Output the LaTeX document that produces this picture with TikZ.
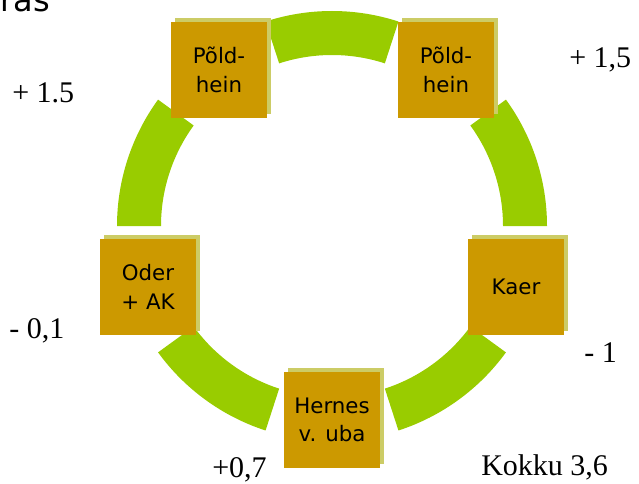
\documentclass[tikz,border=0pt]{standalone}
\usepackage{fontspec}
\setmainfont{Liberation Serif}
\newfontfamily\boxfont{DejaVu Sans}
\usetikzlibrary{shadows}
\definecolor{cropgold}{HTML}{CC9900}
\definecolor{shadeolive}{HTML}{CCCC66}
\definecolor{bandgreen}{HTML}{99CC00}
\begin{document}
\begin{tikzpicture}[
    x=0.75pt, y=0.75pt,
    crop/.style={fill=cropgold, minimum size=72pt, inner sep=0pt, align=center,
        font=\boxfont\fontsize{16}{21.5}\selectfont,
        drop shadow={shadow xshift=3pt, shadow yshift=3pt, fill=shadeolive, opacity=1}},
    balance/.style={anchor=base west, inner sep=0pt, font=\fontsize{22.5}{26}\selectfont}
    ]
	\useasboundingbox (0,0) rectangle (639,483);
	\coordinate (c) at (332,257);
	\foreach \a in {0,72,144,216,288}
		\fill[bandgreen, shift={(c)}] (\a:215) arc[start angle=\a, end angle=\a+36, radius=215]
			-- (\a+36:171) arc[start angle=\a+36, end angle=\a, radius=171] -- cycle;
	\node [anchor=base east, inner sep=0pt, font=\boxfont\fontsize{24}{28}\selectfont] (title) at (50,471) {ras};
	\node [crop] (hein1) at (219,413) {Põld-\\hein};
	\node [crop] (hein2) at (446,413) {Põld-\\hein};
	\node [crop] (kaer) at (516,196) {Kaer};
	\node [crop] (hernes) at (332,63) {Hernes\\v. uba};
	\node [crop] (oder) at (148,196) {Oder\\+ AK};
	\node [balance] (b1) at (12,380) {+ 1.5};
	\node [balance] (b2) at (569,415) {+ 1,5};
	\node [balance] (b3) at (584,121) {- 1};
	\node [balance] (b4) at (212,6) {+0,7};
	\node [balance] (b5) at (9,145) {- 0,1};
	\node [balance] (total) at (481,8) {Kokku 3,6};
\end{tikzpicture}
\end{document}
